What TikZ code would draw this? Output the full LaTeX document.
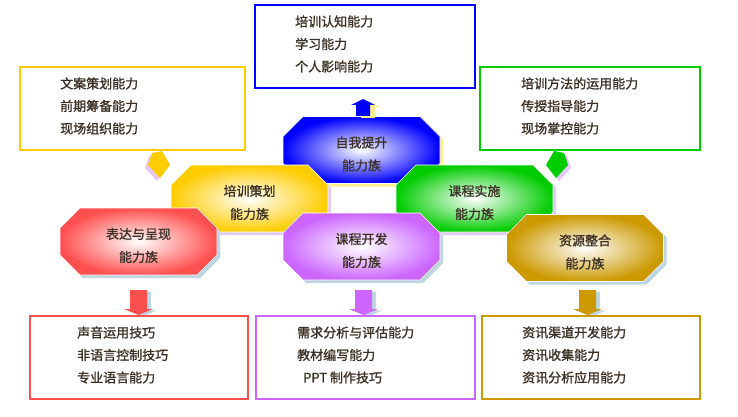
\documentclass[tikz,border=0pt]{standalone}
\usepackage{fontspec}
\newfontfamily\cjk[FakeBold=1.2]{Noto Sans CJK SC}
\definecolor{cblue}{RGB}{0,0,255}
\definecolor{cyellow}{RGB}{255,204,0}
\definecolor{cgreen}{RGB}{0,204,0}
\definecolor{cred}{RGB}{255,80,80}
\definecolor{cpurple}{RGB}{204,102,255}
\definecolor{cgold}{RGB}{204,153,0}
\definecolor{shblue}{RGB}{190,214,226}
\definecolor{shyellow}{RGB}{255,240,140}
\definecolor{shlav}{RGB}{228,200,248}
\definecolor{txt}{RGB}{58,48,38}
\tikzset{
  box/.style={draw, line width=2pt, fill=white, inner sep=0pt},
  itemtext/.style={anchor=west, inner sep=0pt, text=txt, font=\cjk\fontsize{13pt}{15pt}\selectfont},
  famtext/.style={inner sep=0pt, align=center, text=txt, font=\cjk\fontsize{13pt}{23pt}\selectfont},
}
\newcommand\octpath{(-58.5,-33.5) -- (58.5,-33.5) -- (78.5,-13.5) -- (78.5,13.5) -- (58.5,33.5) -- (-58.5,33.5) -- (-78.5,13.5) -- (-78.5,-13.5) -- cycle}
% #1 name, #2 x, #3 y, #4 colour, #5 shadow colour, #6 first line
\newcommand\famoct[6]{%
  \begin{scope}[shift={(#2,#3)}]
    \fill[#5] [shift={(3,3)}] \octpath;
    \path[inner color=white, outer color=#4, draw=white, line width=0.6pt] \octpath;
    \node[famtext] (#1) at (0,4) {#6\\能力族};
  \end{scope}}
% down block arrow: #1 centre x, #2 colour
\newcommand\famdown[2]{%
  \begin{scope}[shift={(#1,0)}]
    \fill[shblue] [shift={(4,1.5)}] (-8.5,290) -- (8.5,290) -- (8.5,309) -- (14.5,309) -- (0,315) -- (-14.5,309) -- (-8.5,309) -- cycle;
    \fill[#2] (-8.5,290) -- (8.5,290) -- (8.5,309) -- (14.5,309) -- (0,315) -- (-14.5,309) -- (-8.5,309) -- cycle;
  \end{scope}}
\begin{document}
\begin{tikzpicture}[x=1pt,y=-1pt]
\useasboundingbox[fill=white] (0,0) rectangle (738,417);

% family octagons
\famoct{fself}{361.5}{150}{cblue}{shyellow}{自我提升}
\famoct{fplan}{249.5}{198.5}{cyellow}{shlav}{培训策划}
\famoct{fimpl}{474.5}{198.5}{cgreen}{shlav}{课程实施}
\famoct{fexpr}{138.5}{241.5}{cred}{shblue}{表达与呈现}
\famoct{fdev}{361.5}{246.5}{cpurple}{shblue}{课程开发}
\famoct{fres}{585}{248}{cgold}{shblue}{资源整合}

% up arrow (blue)
\fill[shyellow] [shift={(5,2)}] (356,116) -- (370,116) -- (370,105) -- (375,105) -- (363,99) -- (351,105) -- (356,105) -- cycle;
\fill[cblue] (356,116) -- (370,116) -- (370,105) -- (375,105) -- (363,99) -- (351,105) -- (356,105) -- cycle;

% tilted arrows (yellow, green)
\fill[shlav] [shift={(-3,3)}] (148,165) -- (152,153) -- (162,151) -- (170,165) -- (160,178) -- cycle;
\fill[cyellow] (148,165) -- (152,153) -- (162,151) -- (170,165) -- (160,178) -- cycle;
\fill[shlav] [shift={(3,3)}] (568,165) -- (564,153) -- (554,151) -- (546,165) -- (556,178) -- cycle;
\fill[cgreen] (568,165) -- (564,153) -- (554,151) -- (546,165) -- (556,178) -- cycle;

% down arrows
\famdown{138.5}{cred}
\famdown{363.5}{cpurple}
\famdown{587.5}{cgold}

% boxes
\node[box, draw=cblue, minimum width=220pt, minimum height=83pt] (bself) at (365,46.5) {};
\node[box, draw=cyellow, minimum width=225pt, minimum height=83pt] (bplan) at (132.5,108.5) {};
\node[box, draw=cgreen, minimum width=220pt, minimum height=83pt] (bimpl) at (590,108.5) {};
\node[box, draw=cred, minimum width=218pt, minimum height=83pt] (bexpr) at (139,357.5) {};
\node[box, draw=cpurple, minimum width=219pt, minimum height=83pt] (bdev) at (365.5,357.5) {};
\node[box, draw=cgold, minimum width=218pt, minimum height=83pt] (bres) at (591,357.5) {};

% box texts
\node[itemtext] (s1) at (295,21.5) {培训认知能力};
\node[itemtext] (s2) at (295,44) {学习能力};
\node[itemtext] (s3) at (295,66.5) {个人影响能力};

\node[itemtext] (p1) at (60,83.5) {文案策划能力};
\node[itemtext] (p2) at (60,106) {前期筹备能力};
\node[itemtext] (p3) at (60,128.5) {现场组织能力};

\node[itemtext] (i1) at (521,83.5) {培训方法的运用能力};
\node[itemtext] (i2) at (521,106) {传授指导能力};
\node[itemtext] (i3) at (521,128.5) {现场掌控能力};

\node[itemtext] (e1) at (77,332.5) {声音运用技巧};
\node[itemtext] (e2) at (77,355) {非语言控制技巧};
\node[itemtext] (e3) at (77,377.5) {专业语言能力};

\node[itemtext] (d1) at (297,332.5) {需求分析与评估能力};
\node[itemtext] (d2) at (297,355) {教材编写能力};
\node[itemtext] (d3) at (303,377.5) {PPT 制作技巧};

\node[itemtext] (r1) at (522,332.5) {资讯渠道开发能力};
\node[itemtext] (r2) at (522,355) {资讯收集能力};
\node[itemtext] (r3) at (522,377.5) {资讯分析应用能力};
\end{tikzpicture}
\end{document}
